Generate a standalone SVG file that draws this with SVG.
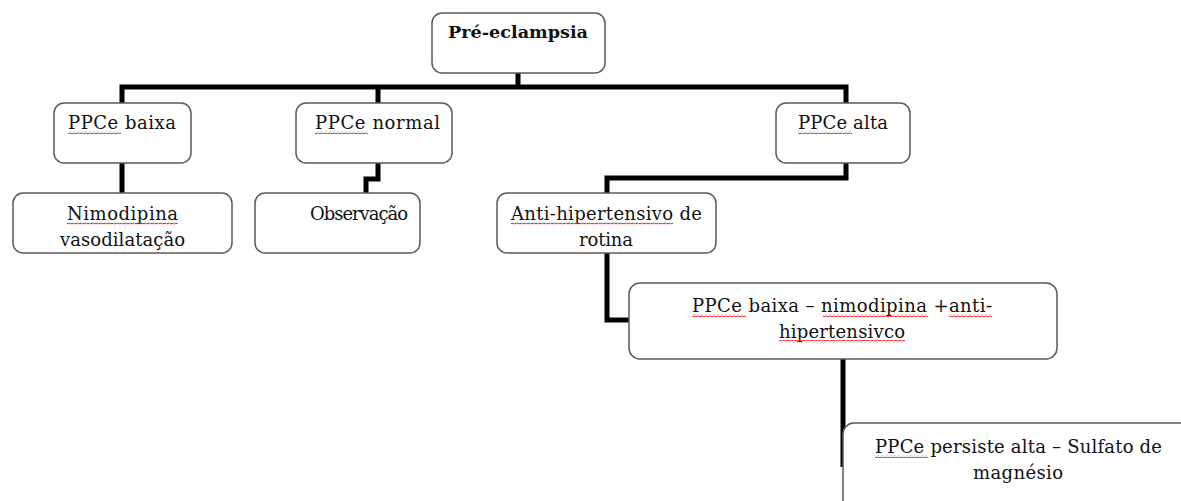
<svg xmlns="http://www.w3.org/2000/svg" width="1181" height="501" viewBox="0 0 1181 501">
<style>
.box{fill:#fff;stroke:#5a5a5a;stroke-width:1.5}
.t{font-family:"DejaVu Serif","Liberation Serif",serif;font-size:18px;fill:#111}
.b{font-weight:bold;font-size:17px}
.c{fill:none;stroke:#000;stroke-width:5;stroke-linejoin:miter;stroke-linecap:butt}
</style>
<defs>
<pattern id="wave" width="4" height="3" patternUnits="userSpaceOnUse">
<path d="M0 2.2 L1 0.8 L3 2.2 L4 0.8" fill="none" stroke="#e02020" stroke-width="0.9"/>
</pattern>
</defs>
<rect width="1181" height="501" fill="#fff"/>
<g id="connectors">
<path class="c" d="M518 73 V87"/>
<path class="c" d="M122 103 V87 H846 V103"/>
<path class="c" d="M378 87 V103"/>
<path class="c" d="M122 163 V193"/>
<path class="c" d="M378 163 V179 H366 V193"/>
<path class="c" d="M846 163 V178 H607 V193"/>
<path class="c" d="M607 253 V320 H629"/>
<path class="c" d="M843 359 V467"/>
</g>
<g id="root">
<rect class="box" x="432" y="13" width="173" height="60" rx="10"/>
<text class="t b" x="448" y="38" textLength="140" lengthAdjust="spacingAndGlyphs">Pré-eclampsia</text>
</g>
<g id="ppce-baixa">
<rect class="box" x="54" y="103" width="137" height="60" rx="10"/>
<text class="t" x="68" y="129" textLength="108">PPCe baixa</text>
<rect x="68" y="131" width="53" height="3" fill="url(#wave)"/>
</g>
<g id="ppce-normal">
<rect class="box" x="296" y="103" width="156" height="60" rx="10"/>
<text class="t" x="315" y="129" textLength="125">PPCe normal</text>
<rect x="315" y="131" width="53" height="3" fill="url(#wave)"/>
</g>
<g id="ppce-alta">
<rect class="box" x="776" y="103" width="134" height="60" rx="10"/>
<text class="t" x="798" y="129" textLength="90">PPCe alta</text>
<rect x="798" y="131" width="54" height="3" fill="url(#wave)"/>
</g>
<g id="nimodipina">
<rect class="box" x="13" y="193" width="219" height="60" rx="10"/>
<text class="t" x="67" y="220" textLength="111">Nimodipina</text>
<text class="t" x="60" y="246" textLength="125">vasodilatação</text>
<rect x="67" y="222" width="111" height="3" fill="url(#wave)"/>
</g>
<g id="observacao">
<rect class="box" x="255" y="193" width="165" height="60" rx="10"/>
<text class="t" x="310" y="220" textLength="98">Observação</text>
</g>
<g id="anti-hipertensivo">
<rect class="box" x="497" y="193" width="219" height="60" rx="10"/>
<text class="t" x="511" y="220" textLength="191">Anti-hipertensivo de</text>
<text class="t" x="579" y="246" textLength="54">rotina</text>
<rect x="511" y="222" width="162" height="3" fill="url(#wave)"/>
</g>
<g id="ppce-baixa-nimodipina">
<rect class="box" x="629" y="283" width="428" height="76" rx="11"/>
<text class="t" x="692" y="312" textLength="300">PPCe baixa – nimodipina +anti-</text>
<text class="t" x="779" y="338" textLength="126">hipertensivco</text>
<rect x="692" y="314" width="54" height="3" fill="url(#wave)"/>
<rect x="823" y="314" width="105" height="3" fill="url(#wave)"/>
<rect x="949" y="314" width="43" height="3" fill="url(#wave)"/>
<rect x="779" y="340" width="126" height="3" fill="url(#wave)"/>
</g>
<g id="ppce-persiste-alta">
<rect class="box" x="843" y="423" width="360" height="100" rx="11"/>
<text class="t" x="875" y="453" textLength="287">PPCe persiste alta – Sulfato de</text>
<text class="t" x="973" y="479" textLength="90">magnésio</text>
<rect x="875" y="455" width="53" height="3" fill="url(#wave)"/>
</g>
</svg>
